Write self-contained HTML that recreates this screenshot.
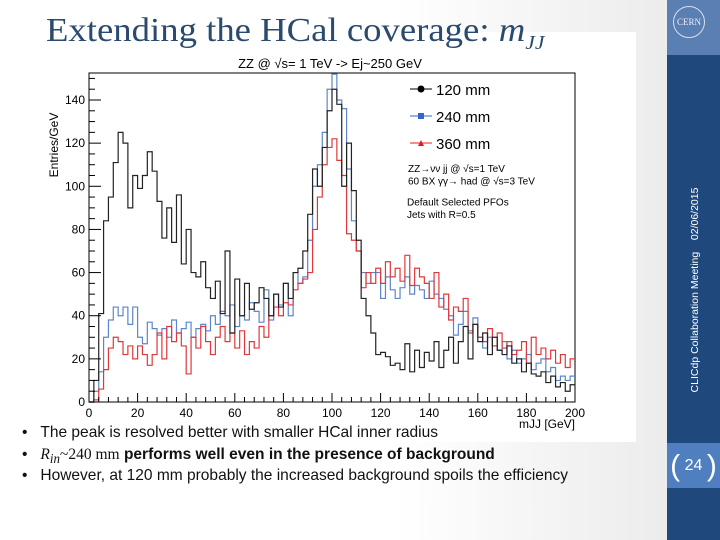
<!DOCTYPE html>
<html><head><meta charset="utf-8"><style>
body{margin:0;width:720px;height:540px;overflow:hidden;position:relative;font-family:"Liberation Sans",sans-serif;background:linear-gradient(90deg,#fff 0%,#fff 55%,#e8e8e8 100%);}
.abs{position:absolute}
</style></head><body>
<div class="abs" style="left:45px;top:32px;width:591px;height:410px;background:#fff"></div>
<div class="abs" style="left:46px;top:12px;font-family:'Liberation Serif',serif;font-size:34px;color:#2a4a6e;white-space:nowrap;transform:scaleX(1.08);transform-origin:left">Extending the HCal coverage: <i>m<sub style="font-size:20px;line-height:0">JJ</sub></i></div>
<div class="abs" style="left:667px;top:0;width:53px;height:540px;background:#1f497d"></div>
<div class="abs" style="left:667px;top:0;width:53px;height:55px;background:#5a7fb2"></div>
<div class="abs" style="left:673px;top:6px;width:30px;height:30px;border:1px solid #dde;border-radius:50%;color:#eef;font-size:9px;font-family:'Liberation Serif',serif;text-align:center;line-height:30px">CERN</div>
<div class="abs" style="left:695px;top:290px;transform:translate(-50%,-50%) rotate(-90deg);white-space:nowrap;color:#fff;font-size:10.5px">CLICdp Collaboration Meeting&nbsp;&nbsp;&nbsp;&nbsp;02/06/2015</div>
<div class="abs" style="left:667px;top:443px;width:53px;height:45px;background:#4f7fbf"></div>
<div class="abs" style="left:667px;top:443px;width:53px;height:45px;color:#fff;font-size:16px;text-align:center;line-height:45px"><span style="font-size:30px;font-weight:100;vertical-align:middle">(</span> 24 <span style="font-size:30px;vertical-align:middle">)</span></div>
<svg class="abs" style="left:0;top:0" width="720" height="540" id="chart"></svg>
<div class="abs" style="left:22px;top:422px;font-size:16px;line-height:21.5px;color:#111;white-space:nowrap;transform:scaleX(0.97);transform-origin:left">
<div style="height:21.5px">•&nbsp;&nbsp;&nbsp;The peak is resolved better with smaller HCal inner radius</div>
<div style="height:21.5px">•&nbsp;&nbsp;&nbsp;<i style="font-family:'Liberation Serif',serif">R<sub style="line-height:0">in</sub></i><span style="font-family:'Liberation Serif',serif">~240 mm</span> <b>performs well even in the presence of background</b></div>
<div style="height:21.5px">•&nbsp;&nbsp;&nbsp;However, at 120 mm probably the increased background spoils the efficiency</div>
</div>
<script>
const xTicks=[0,20,40,60,80,100,120,140,160,180,200];
const yTicks=[0,20,40,60,80,100,120,140];
const black=[0,10,41,84,95,111,125,120,90,105,99,105,116,107,93,76,90,74,96,64,80,60,58,65,53,48,56,41,70,32,57,40,55,43,46,53,48,40,50,44,55,48,60,62,70,87,108,100,118,135,145,138,100,120,98,75,48,40,32,22,23,21,17,18,15,27,14,24,16,23,19,28,16,24,30,18,28,35,20,36,28,32,22,30,24,22,26,18,20,14,18,13,12,14,9,12,7,9,5,8];
const blue=[0,5,14,30,38,44,40,44,36,44,30,27,37,34,31,34,30,38,32,34,37,30,34,36,33,40,36,42,40,45,35,40,38,46,42,37,52,38,50,45,55,40,60,55,58,75,100,110,125,145,152,140,136,108,84,70,60,55,60,60,48,58,52,48,53,58,50,54,52,48,56,50,48,43,40,31,36,42,33,39,30,25,30,26,24,28,20,24,18,20,22,15,18,20,14,16,10,12,10,12];
const red=[0,1,6,15,25,30,28,22,26,20,26,22,17,22,32,20,35,28,32,26,13,30,25,35,28,22,30,35,28,32,25,33,22,28,25,35,30,40,44,40,46,45,52,55,57,60,80,95,110,118,122,112,105,78,75,70,53,60,55,62,55,65,58,62,56,68,54,62,58,55,48,60,44,50,38,44,42,48,32,36,30,28,34,26,32,25,28,22,24,28,18,30,22,25,20,24,18,22,16,20];
const binW=2;
const X0=89,X1=575,Y0=402,Y1=73;
const sx=v=>X0+(v/200)*(X1-X0);
const sy=v=>Y0-v*(402-100)/140;
const svg=document.getElementById('chart');
const NS='http://www.w3.org/2000/svg';
function mk(t,a){const e=document.createElementNS(NS,t);for(const k in a)e.setAttribute(k,a[k]);svg.appendChild(e);return e;}
let f=mk('rect',{x:X0,y:Y1,width:X1-X0,height:Y0-Y1,fill:'#fff',stroke:'#000','stroke-width':1});


function hist(arr,col,name){let d='M'+sx(0)+','+sy(0);arr.forEach((v,i)=>{d+=' L'+sx(i*binW)+','+sy(v)+' L'+sx((i+1)*binW)+','+sy(v);});
const p=mk('path',{d:d,fill:'none',stroke:col,'stroke-width':1.2});

}
hist(blue,'#5b86cc','series-240mm');
hist(red,'#e0383a','series-360mm');
hist(black,'#222','series-120mm');
for(let v=0;v<=200;v+=4){const big=v%20===0;mk('line',{x1:sx(v),x2:sx(v),y1:Y0,y2:Y0-(big?9:5),stroke:'#000'});}
xTicks.forEach(v=>{const t=mk('text',{x:sx(v),y:Y0+15,'text-anchor':'middle','font-size':12,'font-family':'Liberation Sans, sans-serif'});t.textContent=v;

});
for(let v=0;v<=150;v+=5){const big=v%20===0;mk('line',{x1:X0,x2:X0+(big?12:6),y1:sy(v),y2:sy(v),stroke:'#000'});}
yTicks.forEach(v=>{const t=mk('text',{x:X0-4,y:sy(v)+4,'text-anchor':'end','font-size':12,'font-family':'Liberation Sans, sans-serif'});t.textContent=v;

});
let yt=mk('text',{x:0,y:0,transform:'translate(58,145) rotate(-90)','text-anchor':'middle','font-size':12,'font-family':'Liberation Sans, sans-serif'});yt.textContent='Entries/GeV';


let xt=mk('text',{x:575,y:428,'text-anchor':'end','font-size':12,'font-family':'Liberation Sans, sans-serif'});xt.textContent='mJJ [GeV]';


let ct=mk('text',{x:330,y:68,'text-anchor':'middle','font-size':13,'font-family':'Liberation Sans, sans-serif'});ct.textContent='ZZ @ √s= 1 TeV -> Ej~250 GeV';


const leg=[['120 mm','#000','circle'],['240 mm','#3366cc','square'],['360 mm','#e02020','tri']];
leg.forEach((l,i)=>{const y=89+i*27;mk('line',{x1:410,x2:432,y1:y,y2:y,stroke:l[1]});
if(l[2]==='circle')mk('circle',{cx:421,cy:y,r:3.5,fill:l[1]});else if(l[2]==='square')mk('rect',{x:418,y:y-3,width:6,height:6,fill:l[1]});else mk('path',{d:`M418,${y+3} L421,${y-3} L424,${y+3}Z`,fill:l[1]});
const t=mk('text',{x:436,y:y+6,'font-size':15,'font-family':'Liberation Sans, sans-serif'});t.textContent=l[0];

});
['ZZ→νν jj @ √s=1 TeV','60 BX γγ→ had @ √s=3 TeV','','Default Selected PFOs','Jets with R=0.5'].forEach((s,i)=>{if(!s)return;const t=mk('text',{x:i<2?408:407,y:172+i*12.5-(i>2?4:0),'font-size':10,'font-family':'Liberation Sans, sans-serif'});t.textContent=s;

});
</script>
</body></html>
